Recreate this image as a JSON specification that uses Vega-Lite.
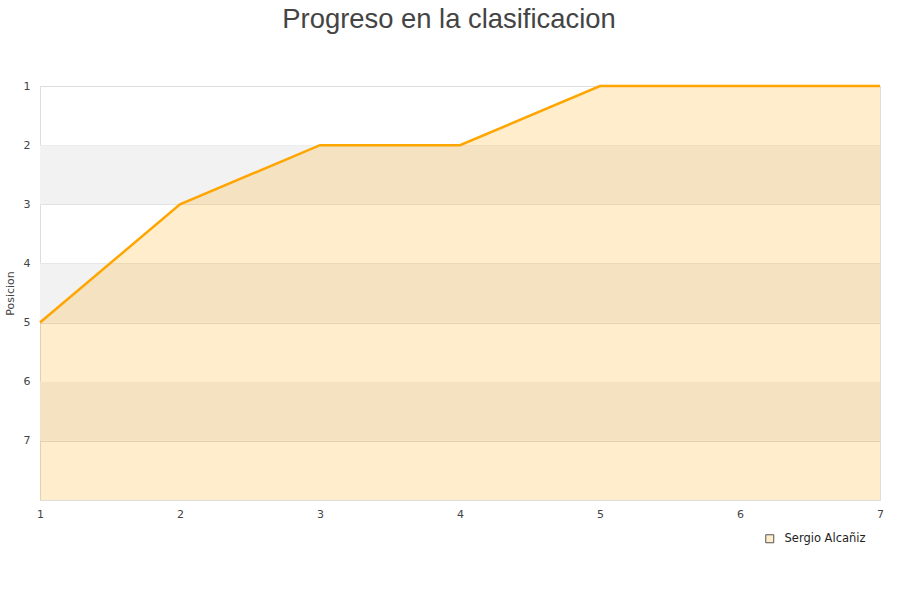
{
  "$schema": "https://vega.github.io/schema/vega-lite/v6.json",
  "width": 840,
  "height": 414,
  "autosize": "none",
  "padding": {"left": 40, "top": 86, "right": 20, "bottom": 100},
  "background": "white",
  "title": {
    "text": "Progreso en la clasificacion",
    "fontSize": 27.4,
    "font": "Liberation Sans",
    "fontWeight": "normal",
    "color": "#444444",
    "anchor": "middle",
    "dx": -11,
    "offset": 47
  },
  "config": {
    "view": {"stroke": "#dddddd"},
    "axis": {"labelFont": "DejaVu Sans", "labelFontSize": 11, "labelColor": "#444444", "titleFont": "DejaVu Sans", "titleFontWeight": "normal", "titleColor": "#444444"}
  },
  "datasets": {
    "serie": [
      {"jornada": 1, "posicion": 5, "jugador": "Sergio Alcañiz"},
      {"jornada": 2, "posicion": 3, "jugador": "Sergio Alcañiz"},
      {"jornada": 3, "posicion": 2, "jugador": "Sergio Alcañiz"},
      {"jornada": 4, "posicion": 2, "jugador": "Sergio Alcañiz"},
      {"jornada": 5, "posicion": 1, "jugador": "Sergio Alcañiz"},
      {"jornada": 6, "posicion": 1, "jugador": "Sergio Alcañiz"},
      {"jornada": 7, "posicion": 1, "jugador": "Sergio Alcañiz"}
    ],
    "bandas": [
      {"desde": 2, "hasta": 3},
      {"desde": 4, "hasta": 5},
      {"desde": 6, "hasta": 7}
    ]
  },
  "layer": [
    {
      "data": {"name": "bandas"},
      "mark": {"type": "rect", "color": "#f2f2f2"},
      "encoding": {
        "x": {"datum": 1, "type": "quantitative"},
        "x2": {"datum": 7},
        "y": {"field": "desde", "type": "quantitative"},
        "y2": {"field": "hasta"}
      }
    },
    {
      "data": {"name": "serie"},
      "mark": {"type": "area", "fillOpacity": 0.2, "interpolate": "linear"},
      "encoding": {
        "x": {"field": "jornada", "type": "quantitative",
              "scale": {"domain": [1, 7], "nice": false, "zero": false},
              "axis": {"title": null, "grid": false, "domain": false, "ticks": false, "values": [1,2,3,4,5,6,7], "labelPadding": 8, "labelFlush": false, "format": "d"}},
        "y": {"field": "posicion", "type": "quantitative",
              "scale": {"domain": [1, 8], "reverse": true, "nice": false, "zero": false},
              "axis": {"title": "Posicion", "titleFontSize": 11, "titlePadding": 8, "grid": true, "gridColor": "#dddddd", "domain": false, "ticks": false, "values": [1,2,3,4,5,6,7], "labelPadding": 10, "format": "d"}},
        "y2": {"datum": 8},
        "fill": {"field": "jugador", "type": "nominal",
                 "scale": {"range": ["#FFA500"]},
                 "legend": {"title": null, "orient": "none", "legendX": 724, "legendY": 447,
                            "symbolType": "square", "symbolSize": 64, "labelOffset": 9, "labelFont": "DejaVu Sans", "labelFontSize": 11.5, "labelColor": "#222222",
                            "symbolStrokeColor": "#555555", "symbolStrokeWidth": 1,
                            "encode": {"symbols": {"update": {"fillOpacity": {"value": 0.2}, "strokeOpacity": {"value": 1}}}}}}
      }
    },
    {
      "data": {"name": "serie"},
      "mark": {"type": "line", "color": "#FFA500", "strokeWidth": 2.5},
      "encoding": {
        "x": {"field": "jornada", "type": "quantitative"},
        "y": {"field": "posicion", "type": "quantitative"}
      }
    }
  ]
}
